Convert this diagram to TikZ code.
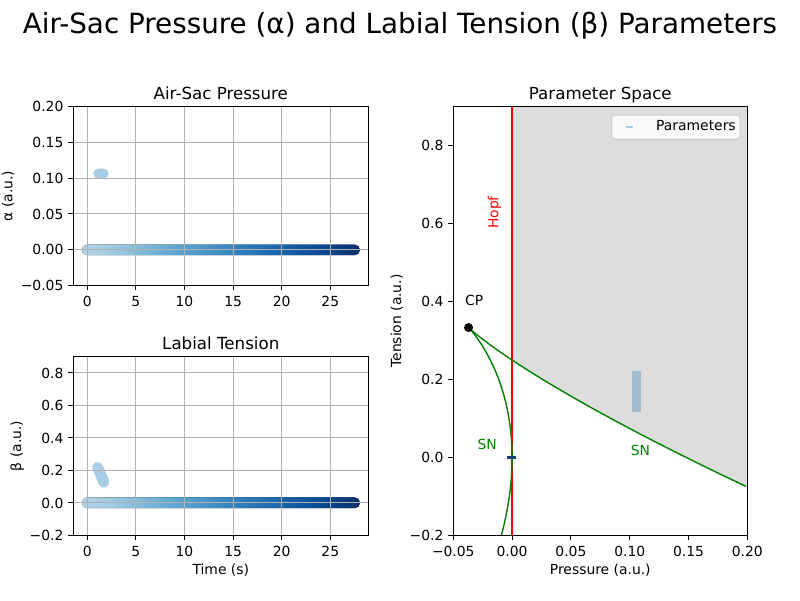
\documentclass[tikz,border=0pt]{standalone}
\usepackage{fontspec}
\setmainfont{DejaVu Sans}
\definecolor{gridc}{HTML}{B0B0B0}
\definecolor{blobc}{HTML}{A8CDE4}
\definecolor{legblue}{HTML}{A6CBE3}
\definecolor{grayfill}{HTML}{DDDDDD}
\definecolor{sngreen}{HTML}{008000}
\definecolor{hopfred}{HTML}{FF0000}
\definecolor{legc}{HTML}{CCCCCC}
\definecolor{parlight}{HTML}{A3BDCE}
\definecolor{pardark}{HTML}{1C3B6E}
\definecolor{bA}{HTML}{B4D3E9}
\definecolor{bB}{HTML}{9ECAE1}
\definecolor{bC}{HTML}{6BAED6}
\definecolor{bD}{HTML}{4292C6}
\definecolor{bE}{HTML}{2171B5}
\definecolor{bF}{HTML}{08519C}
\definecolor{bG}{HTML}{08306B}
\pgfdeclarehorizontalshading{bluesband}{100bp}{color(0bp)=(bA); color(25bp)=(bA); color(30.35bp)=(bB); color(39.3bp)=(bC); color(48.2bp)=(bD); color(57.15bp)=(bE); color(66.05bp)=(bF); color(75bp)=(bG); color(100bp)=(bG)}
\begin{document}
\begin{tikzpicture}[x=1pt,y=-1pt,
  ticklab/.style={inner sep=0pt, font=\fontsize{13.89}{16}\selectfont},
  axlab/.style={inner sep=0pt, font=\fontsize{13.89}{16}\selectfont},
  axtitle/.style={inner sep=0pt, font=\fontsize{16.67}{20}\selectfont},
  suptitle/.style={inner sep=0pt, font=\fontsize{27.8}{32}\selectfont},
  gridline/.style={draw=gridc, line width=1.11pt},
  spine/.style={draw=black, line width=1.11pt},
  tickmark/.style={draw=black, line width=1.11pt},
  bandstyle/.style={shading=bluesband, rounded corners=5.4pt},
  blob/.style={fill=blobc},
  snline/.style={draw=sngreen, line width=1.39pt},
  annot/.style={inner sep=0pt, font=\fontsize{13.89}{16}\selectfont}]
\useasboundingbox (0,0) rectangle (800,600);
\fill[white] (0,0) rectangle (800,600);

% ================= main title =================
\node[suptitle, anchor=base] (maintitle) at (400,33.5) {Air-Sac Pressure (α) and Labial Tension (β) Parameters};

% ================= top-left panel =================
\fill[bandstyle] (81.7,244.6) rectangle (360,255.2);
\fill[blob, rounded corners=5pt] (93.3,168.7) rectangle (108.7,178.7);
\begin{scope}[shift={(87.3,0)},x=9.72pt]
  \foreach \t [count=\i] in {0,5,10,15,20,25} {
    \draw[gridline] (\t,106.7) -- (\t,285.3);
    \draw[tickmark] (\t,285.3) -- ++(0,4.86);
    \node[ticklab, anchor=base] (tlx\i) at (\t,306.5) {\t};
  }
\end{scope}
\begin{scope}[shift={(0,249.6)},y=714.4pt]
  \foreach \v/\l [count=\i] in {-0.05/−0.05, 0/0.00, 0.05/0.05, 0.1/0.10, 0.15/0.15, 0.2/0.20} {
    \draw[gridline] (73.3,\v) -- (368.3,\v);
    \draw[tickmark] (73.3,\v) -- ++(-4.86,0);
    \node[ticklab, anchor=base east, yshift=-5.2pt] (tly\i) at (63.6,\v) {\l};
  }
\end{scope}
\draw[spine] (73.3,106.7) rectangle (368.3,285.3);
\node[axtitle, anchor=base] (tltitle) at (220.8,99.3) {Air-Sac Pressure};
\node[axlab, anchor=base, rotate=90] (tlylab) at (12.5,196) {α (a.u.)};

% ================= bottom-left panel =================
\fill[bandstyle] (81.7,497.4) rectangle (360,508.2);
\draw[blobc, line width=11pt, line cap=round] (97.6,467.5) -- (100.5,474) -- (103.8,482.2);
\begin{scope}[shift={(87.3,0)},x=9.72pt]
  \foreach \t [count=\i] in {0,5,10,15,20,25} {
    \draw[gridline] (\t,356.5) -- (\t,535.4);
    \draw[tickmark] (\t,535.4) -- ++(0,4.86);
    \node[ticklab, anchor=base] (blx\i) at (\t,556) {\t};
  }
\end{scope}
\begin{scope}[shift={(0,502.8)},y=162.5pt]
  \foreach \v/\l [count=\i] in {-0.2/−0.2, 0/0.0, 0.2/0.2, 0.4/0.4, 0.6/0.6, 0.8/0.8} {
    \draw[gridline] (73.3,\v) -- (368.3,\v);
    \draw[tickmark] (73.3,\v) -- ++(-4.86,0);
    \node[ticklab, anchor=base east, yshift=-5.2pt] (bly\i) at (63.6,\v) {\l};
  }
\end{scope}
\draw[spine] (73.3,356.5) rectangle (368.3,535.4);
\node[axtitle, anchor=base] (bltitle) at (220.8,349.2) {Labial Tension};
\node[axlab, anchor=base, rotate=90] (blylab) at (21,446) {β (a.u.)};
\node[axlab, anchor=base] (blxlab) at (220.8,574) {Time (s)};

% ================= right panel =================
\begin{scope}[shift={(512.1,457.5)},x=1176pt,y=389.8pt]
  \fill[grayfill] (0,0.9) -- (0,0.25) -- plot[domain=0.5:0.7027,samples=40] ({2*\x*\x*\x-\x*\x},{2*\x-3*\x*\x}) -- (0.2,0.9) -- cycle;
  \draw[hopfred, line width=2.08pt] (0,-0.2) -- (0,0.9);
  \draw[snline] plot[domain=-0.0883:0.33333,samples=120] ({2*\x*\x*\x-\x*\x},{2*\x-3*\x*\x});
  \draw[snline] plot[domain=0.33333:0.7027,samples=120] ({2*\x*\x*\x-\x*\x},{2*\x-3*\x*\x});
  \fill[black] (-0.037037,0.333333) circle[radius=4.5pt];
  \foreach \v/\l [count=\i] in {-0.05/−0.05, 0/0.00, 0.05/0.05, 0.1/0.10, 0.15/0.15, 0.2/0.20} {
    \draw[tickmark] (\v,-0.2) -- ++(0pt,-4.86pt);
    \node[ticklab, anchor=base] (rx\i) at ([yshift=-21pt]\v,-0.2) {\l};
  }
  \foreach \v/\l [count=\i] in {-0.2/−0.2, 0/0.0, 0.2/0.2, 0.4/0.4, 0.6/0.6, 0.8/0.8} {
    \draw[tickmark] (-0.05,\v) -- ++(-4.86pt,0pt);
    \node[ticklab, anchor=base east, xshift=-9.72pt, yshift=-5.2pt] (ry\i) at (-0.05,\v) {\l};
  }
\end{scope}
\fill[parlight] (632,371) rectangle (641,412);
\fill[pardark] (507,455.6) rectangle (516,458.6);
\node[annot, anchor=base west] (cp) at (465,305) {CP};
\node[annot, anchor=base west, text=sngreen] (snleft) at (477.3,449.3) {SN};
\node[annot, anchor=base west, text=sngreen] (snright) at (630.7,455.7) {SN};
\node[annot, anchor=center, rotate=90, text=hopfred] (hopf) at (494.5,212.5) {Hopf};
% legend
\draw[draw=legc, fill=white, fill opacity=0.8, rounded corners=2.8pt, line width=1pt] (611.7,115) rectangle (740,139.3);
\coordinate (lgA) at (626,126.5);
\coordinate (lgB) at (633.3,126.5);
\draw[legblue, line width=2pt] (lgA) -- (lgB);
\node[annot, anchor=base west] (legtext) at (656,130.8) {Parameters};
\draw[spine] (453.3,106.7) rectangle (747.3,535.4);
\node[axtitle, anchor=base] (rtitle) at (600.3,99.3) {Parameter Space};
\node[axlab, anchor=base] (rxlab) at (600.3,574) {Pressure (a.u.)};
\node[axlab, anchor=base, rotate=90] (rylab) at (401,321) {Tension (a.u.)};
\end{tikzpicture}
\end{document}
